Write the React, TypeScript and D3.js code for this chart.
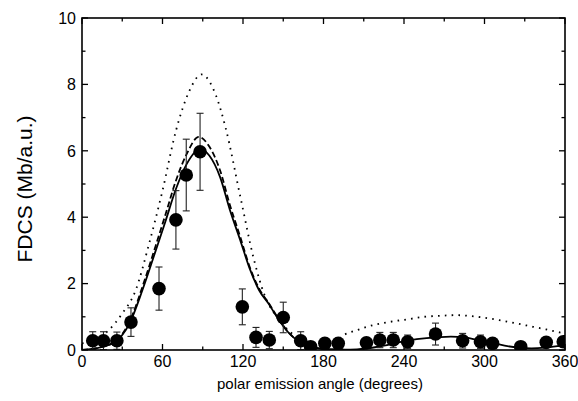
import React from "react";
import * as d3 from "d3";

const W = 578;
const H = 401;

// experimental points: angle (deg), FDCS, error
const expAngle = [8, 16, 26, 36.5, 57.4, 70, 77.7, 88, 119.5, 129.7, 139.6, 150, 163, 170.4, 181, 191, 212, 222, 232, 242.7, 263.5, 283.7, 297, 306, 327, 346, 358.7];
const expValue = [0.28, 0.28, 0.28, 0.84, 1.85, 3.92, 5.27, 5.97, 1.3, 0.38, 0.3, 0.98, 0.28, 0.1, 0.2, 0.2, 0.22, 0.3, 0.3, 0.25, 0.48, 0.28, 0.25, 0.2, 0.1, 0.23, 0.25];
const expError = [0.27, 0.27, 0.26, 0.43, 0.65, 0.88, 1.08, 1.16, 0.54, 0.3, 0.26, 0.46, 0.27, 0.1, 0.15, 0.15, 0.15, 0.23, 0.23, 0.2, 0.33, 0.22, 0.2, 0.15, 0.1, 0.15, 0.15];

// solid theory curve
const solidAngle = [0, 10, 20, 25, 30, 36, 45, 55, 62, 70, 78, 88, 95, 103, 110, 118, 125, 132, 139, 146, 154, 160, 165, 175, 185, 195, 205, 215, 225, 235, 245, 255, 265, 275, 285, 295, 305, 315, 325, 335, 345, 355, 360];
const solidValue = [0.0, 0.05, 0.15, 0.25, 0.45, 0.85, 1.8, 3.0, 3.85, 4.85, 5.6, 6.05, 5.85, 5.2, 4.25, 3.3, 2.45, 1.8, 1.4, 0.95, 0.52, 0.3, 0.16, 0.06, 0.02, 0.01, 0.02, 0.06, 0.13, 0.22, 0.3, 0.35, 0.38, 0.4, 0.38, 0.3, 0.22, 0.13, 0.07, 0.05, 0.07, 0.12, 0.15];

// dashed theory curve
const dashAngle = [0, 10, 20, 25, 30, 36, 45, 55, 62, 70, 78, 87, 95, 103, 110, 118, 125, 132, 139, 146, 154, 160, 165, 175, 185, 195];
const dashValue = [0.0, 0.05, 0.16, 0.27, 0.48, 0.9, 1.9, 3.15, 4.05, 5.1, 5.9, 6.42, 6.12, 5.4, 4.4, 3.4, 2.5, 1.85, 1.42, 0.97, 0.53, 0.3, 0.16, 0.06, 0.02, 0.01];

// dotted theory curve
const dotAngle = [0, 10, 20, 30, 40, 50, 60, 70, 80, 89, 100, 107, 118, 128, 136, 145, 155, 165, 175, 185, 196, 205, 217, 230, 242, 255, 267, 279, 290, 300, 311, 324, 336, 346, 356, 360];
const dotValue = [0.2, 0.3, 0.6, 1.1, 1.8, 3.2, 4.8, 6.6, 7.8, 8.3, 7.65, 6.7, 4.62, 2.75, 1.66, 1.0, 0.55, 0.25, 0.12, 0.18, 0.47, 0.6, 0.75, 0.85, 0.92, 1.0, 1.03, 1.05, 1.02, 0.97, 0.9, 0.8, 0.7, 0.62, 0.53, 0.5];

const xTicks = [0, 60, 120, 180, 240, 300, 360];
const yTicks = [0, 2, 4, 6, 8, 10];

const m = { left: 82, right: 565, top: 18, bottom: 350 };

export default function App() {
  const x = d3.scaleLinear().domain([0, 360]).range([m.left, m.right]);
  const y = d3.scaleLinear().domain([0, 10]).range([m.bottom, m.top]);

  const line = d3
    .line<[number, number]>()
    .x((d) => x(d[0]))
    .y((d) => y(d[1]))
    .curve(d3.curveMonotoneX);

  const solid = line(solidAngle.map((a, i) => [a, solidValue[i]]) as [number, number][]) || "";
  const dashed = line(dashAngle.map((a, i) => [a, dashValue[i]]) as [number, number][]) || "";
  const dotted = line(dotAngle.map((a, i) => [a, dotValue[i]]) as [number, number][]) || "";

  const xMinor = d3.range(0, 361, 30);
  const yMinor = d3.range(0, 10.01, 1);
  const font = "Liberation Sans, Arial, Helvetica, sans-serif";

  return (
    <svg width={W} height={H} style={{ position: "absolute", left: 0, top: 0, background: "#fff" }}>
      <defs>
        <clipPath id="plot">
          <rect x={m.left} y={m.top} width={m.right - m.left} height={m.bottom - m.top} />
        </clipPath>
      </defs>
      <rect x={0} y={0} width={W} height={H} fill="#fff" />
      <g clipPath="url(#plot)">
        <path d={dotted} fill="none" stroke="#000" strokeWidth={1.8} strokeDasharray="1.6 5.2" />
        <path d={dashed} fill="none" stroke="#000" strokeWidth={1.8} strokeDasharray="6 3" />
        <path d={solid} fill="none" stroke="#000" strokeWidth={1.8} />
        {expAngle.map((a, i) => {
          const cx = x(a);
          const lo = y(Math.max(0, expValue[i] - expError[i]));
          const hi = y(expValue[i] + expError[i]);
          return (
            <g key={"e" + i} stroke="#222" strokeWidth={1.1}>
              <line x1={cx} x2={cx} y1={lo} y2={hi} />
              <line x1={cx - 3.5} x2={cx + 3.5} y1={hi} y2={hi} />
              <line x1={cx - 3.5} x2={cx + 3.5} y1={lo} y2={lo} />
            </g>
          );
        })}
        {expAngle.map((a, i) => (
          <circle key={"c" + i} cx={x(a)} cy={y(expValue[i])} r={6.8} fill="#000" />
        ))}
      </g>
      {/* ticks */}
      <g stroke="#000" strokeWidth={1.3}>
        {xMinor.map((t) => {
          const len = t % 60 === 0 ? 6 : 3.5;
          return (
            <g key={"xt" + t}>
              <line x1={x(t)} x2={x(t)} y1={m.bottom} y2={m.bottom - len} />
              <line x1={x(t)} x2={x(t)} y1={m.top} y2={m.top + len} />
            </g>
          );
        })}
        {yMinor.map((t) => {
          const len = t % 2 === 0 ? 6 : 3.5;
          return (
            <g key={"yt" + t}>
              <line x1={m.left} x2={m.left + len} y1={y(t)} y2={y(t)} />
              <line x1={m.right} x2={m.right - len} y1={y(t)} y2={y(t)} />
            </g>
          );
        })}
      </g>
      <rect x={m.left} y={m.top} width={m.right - m.left} height={m.bottom - m.top} fill="none" stroke="#000" strokeWidth={1.6} />
      {/* tick labels */}
      <g fontFamily={font} fontSize={16} fill="#000">
        {xTicks.map((t) => (
          <text key={"xl" + t} x={x(t)} y={367} textAnchor="middle">
            {t}
          </text>
        ))}
        {yTicks.map((t) => (
          <text key={"yl" + t} x={76} y={y(t)} dy="0.36em" textAnchor="end">
            {t}
          </text>
        ))}
      </g>
      <text x={320} y={389} textAnchor="middle" fontFamily={font} fontSize={15} fill="#000">
        polar emission angle (degrees)
      </text>
      <text
        transform={`translate(32, ${189}) rotate(-90)`}
        textAnchor="middle"
        fontFamily={font}
        fontSize={21}
        fill="#000"
      >
        FDCS (Mb/a.u.)
      </text>
    </svg>
  );
}
